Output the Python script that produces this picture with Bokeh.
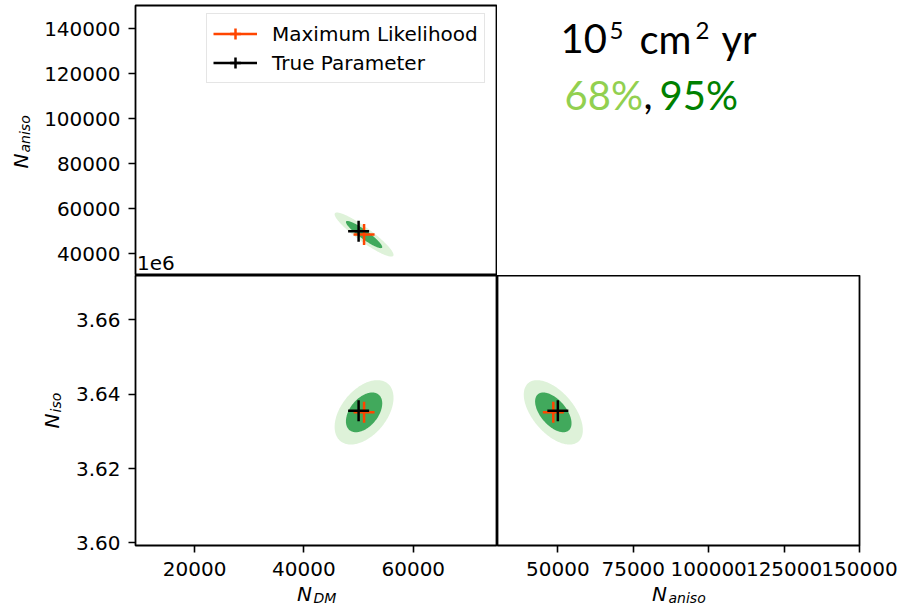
import numpy as np
from bokeh.plotting import figure
from bokeh.layouts import column, row
from bokeh.models import Range1d, FixedTicker, Label, Legend, LegendItem
from bokeh.embed import file_html
from bokeh.resources import INLINE

# ---------------- data ----------------
param_names = ["N_DM", "N_aniso", "N_iso"]
true_values = [50000, 50000, 3635500]
ml_values = [51000, 48500, 3635100]
sigma_values = [2200, 4000, 3540]
corr_dm_aniso = -0.92
corr_dm_iso = 0.45
corr_aniso_iso = -0.55
confidence_labels = ["68%", "95%"]
chi2_levels = [2.279, 5.991]          # 2-D Gaussian contour levels for 68% / 95%
legend_labels = ["Maximum Likelihood", "True Parameter"]

dm_ticks = [20000, 40000, 60000]
dm_tick_labels = ["20000", "40000", "60000"]
aniso_y_ticks = [40000, 60000, 80000, 100000, 120000, 140000]
aniso_y_tick_labels = ["40000", "60000", "80000", "100000", "120000", "140000"]
aniso_x_ticks = [50000, 75000, 100000, 125000, 150000]
aniso_x_tick_labels = ["50000", "75000", "100000", "125000", "150000"]
iso_ticks = [3600000, 3620000, 3640000, 3660000]
iso_tick_labels = ["3.60", "3.62", "3.64", "3.66"]
iso_offset_text = "1e6"

dm_range = (9200, 75400)
aniso_y_range = (30300, 150300)
aniso_x_range = (30000, 150000)
iso_range = (3599300, 3671900)

# ---------------- style ----------------
FONT = "DejaVu Sans"
TICK_SIZE = "20px"
ORANGE = "#ff4500"
LIGHT_GREEN = "#def2d9"
DARK_GREEN = "#41a95c"
TXT_FONT = "Lato"


def blank_fig(width, height):
    p = figure(width=width, height=height, x_range=Range1d(0, width), y_range=Range1d(0, height),
               output_backend="svg", toolbar_location=None, x_axis_location=None, y_axis_location=None,
               min_border_left=0, min_border_right=0, min_border_top=0, min_border_bottom=0)
    p.grid.visible = False
    p.outline_line_color = None
    p.background_fill_color = "white"
    p.border_fill_color = "white"
    return p


def make_fig(width, height, xr, yr, left, right, top, bottom, xloc="below", yloc="left"):
    p = figure(width=width, height=height, x_range=Range1d(*xr), y_range=Range1d(*yr),
               output_backend="svg", toolbar_location=None,
               x_axis_location=xloc, y_axis_location=yloc,
               min_border_left=left, min_border_right=right,
               min_border_top=top, min_border_bottom=bottom)
    p.grid.visible = False
    p.outline_line_color = "black"
    p.outline_line_width = 1.8
    p.background_fill_color = "white"
    p.border_fill_color = "white"
    for ax in p.axis:
        ax.axis_line_color = None
        ax.major_tick_line_color = "black"
        ax.major_tick_line_width = 1.6
        ax.major_tick_out = 7
        ax.major_tick_in = 0
        ax.minor_tick_line_color = None
        ax.major_label_text_font = FONT
        ax.major_label_text_font_size = TICK_SIZE
        ax.major_label_text_color = "black"
    return p


def contour(ix, iy, rho, k):
    sx, sy = sigma_values[ix], sigma_values[iy]
    cov = np.array([[sx * sx, rho * sx * sy], [rho * sx * sy, sy * sy]])
    L = np.linalg.cholesky(cov)
    t = np.linspace(0, 2 * np.pi, 240)
    pts = L @ (np.vstack([np.cos(t), np.sin(t)]) * np.sqrt(k))
    return ml_values[ix] + pts[0], ml_values[iy] + pts[1]


def draw_panel(p, ix, iy, rho):
    for k, col in zip(chi2_levels[::-1], [LIGHT_GREEN, DARK_GREEN]):
        xs, ys = contour(ix, iy, rho, k)
        p.patch(xs, ys, fill_color=col, line_color=None)
    r_ml = p.scatter([ml_values[ix]], [ml_values[iy]], marker="cross", size=21,
                     line_color=ORANGE, line_width=2.5)
    r_true = p.scatter([true_values[ix]], [true_values[iy]], marker="cross", size=21,
                       line_color="black", line_width=2.5)
    return r_ml, r_true


def lbl(p, s, x, y, size, font=FONT, style="normal", color="black", angle=0.0):
    p.add_layout(Label(x=x, y=y, x_units="screen", y_units="screen", text=s, angle=angle,
                       text_font=font, text_font_style=style, text_font_size=size,
                       text_align="left", text_baseline="alphabetic", text_color=color))


def axis_name(p, base, sub, x, y, dx, dy, angle=0.0):
    lbl(p, base, x, y, "20px", style="italic", angle=angle)
    lbl(p, sub, x + dx, y + dy, "14px", style="italic", angle=angle)


# ---------------- top row ----------------
s1 = blank_fig(40, 275)
axis_name(s1, "N", "aniso", 20.5, 107, 3.5, 16, angle=np.pi / 2)

p1 = make_fig(457, 275, dm_range, aniso_y_range, 95, 0, 5, 0, xloc=None)
p1.yaxis.ticker = FixedTicker(ticks=aniso_y_ticks)
p1.yaxis.major_label_overrides = dict(zip(aniso_y_ticks, aniso_y_tick_labels))
p1.yaxis.major_label_standoff = 8
r_ml, r_true = draw_panel(p1, 0, 1, corr_dm_aniso)
leg_ml_line = p1.line(x=[np.nan], y=[np.nan], line_color=ORANGE, line_width=2.5)
leg_true_line = p1.line(x=[np.nan], y=[np.nan], line_color="black", line_width=2.5)
legend = Legend(items=[LegendItem(label=legend_labels[0], renderers=[leg_ml_line, r_ml]),
                       LegendItem(label=legend_labels[1], renderers=[leg_true_line, r_true])],
                location=(71, 192), orientation="vertical",
                glyph_width=44, glyph_height=27, label_height=27, spacing=2, padding=6, margin=0,
                label_standoff=15, label_text_font=FONT, label_text_font_size=TICK_SIZE,
                label_text_color="black", border_line_color="#cccccc", border_line_width=1.5,
                background_fill_color="white", background_fill_alpha=0.8)
p1.add_layout(legend)
lbl(p1, iso_offset_text, 1.5, 12.5, TICK_SIZE)

p4 = blank_fig(415, 275)
lbl(p4, "10", 63, 237, "40px", font=TXT_FONT)
lbl(p4, "5", 112, 245.5, "24px", font=TXT_FONT)
lbl(p4, "cm", 142, 237, "40px", font=TXT_FONT)
lbl(p4, "2", 198, 245.5, "24px", font=TXT_FONT)
lbl(p4, "yr", 224, 237, "40px", font=TXT_FONT)
lbl(p4, confidence_labels[0], 67, 181, "40px", font=TXT_FONT, color="#92d050")
lbl(p4, ",", 146, 181, "40px", font=TXT_FONT)
lbl(p4, confidence_labels[1], 162, 181, "40px", font=TXT_FONT, color="#008000")

# ---------------- middle row ----------------
s2 = blank_fig(72, 307)
axis_name(s2, "N", "iso", 51.5, 117, 3.5, 16, angle=np.pi / 2)

p2 = make_fig(425, 307, dm_range, iso_range, 63, 0, 0, 37)
p2.xaxis.ticker = FixedTicker(ticks=dm_ticks)
p2.xaxis.major_label_overrides = dict(zip(dm_ticks, dm_tick_labels))
p2.xaxis.major_label_standoff = 9
p2.yaxis.ticker = FixedTicker(ticks=iso_ticks)
p2.yaxis.major_label_overrides = dict(zip(iso_ticks, iso_tick_labels))
p2.yaxis.major_label_standoff = 8
draw_panel(p2, 0, 2, corr_dm_iso)

p3 = make_fig(415, 307, aniso_x_range, iso_range, 0, 53, 0, 37, yloc=None)
p3.xaxis.ticker = FixedTicker(ticks=aniso_x_ticks)
p3.xaxis.major_label_overrides = dict(zip(aniso_x_ticks, aniso_x_tick_labels))
p3.xaxis.major_label_standoff = 9
draw_panel(p3, 1, 2, corr_aniso_iso)

# ---------------- bottom row (x axis names) ----------------
s3 = blank_fig(497, 25)
axis_name(s3, "N", "DM", 296.5, 13.5, 16.5, -3.5)
s4 = blank_fig(415, 25)
axis_name(s4, "N", "aniso", 154.5, 13.5, 16.5, -3.5)

layout = column(row(s1, p1, p4), row(s2, p2, p3), row(s3, s4))
open("out.html", "w").write(file_html(layout, INLINE))
